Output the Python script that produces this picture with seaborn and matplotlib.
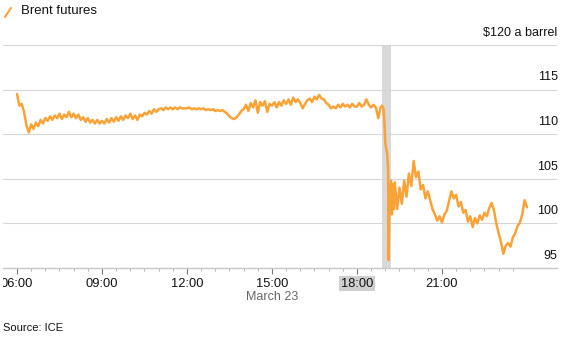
import numpy as np
import pandas as pd
import matplotlib
matplotlib.use("Agg")
import matplotlib.pyplot as plt
import matplotlib.transforms as mtransforms
from matplotlib.lines import Line2D
import seaborn as sns

# ---------------- data (Brent futures, $ a barrel, March 23) ----------------
# 5-minute prices 06:00 .. 11:55
price_morning = [
    114.5, 113.2, 113.4, 112.5, 111.0, 110.2, 111.1, 110.6, 111.3, 110.9, 111.6, 111.2,
    111.8, 111.5, 112.0, 111.6, 112.1, 111.8, 112.3, 111.7, 112.2, 111.9, 112.5, 111.9,
    112.3, 111.8, 112.2, 111.6, 111.9, 111.4, 111.8, 111.3, 111.6, 111.2, 111.6, 111.2,
    111.5, 111.2, 111.7, 111.3, 111.8, 111.4, 111.9, 111.5, 112.0, 111.6, 112.1, 111.8,
    112.3, 111.7, 112.1, 111.6, 112.2, 112.0, 112.4, 112.2, 112.6, 112.3, 112.8, 112.5,
    112.8, 112.9, 112.7, 113.0, 112.8, 113.0, 112.8, 113.0, 112.8, 113.0, 112.9, 112.9,
]
# 5-minute prices 12:00 .. 18:45
price_afternoon = [
    112.9, 113.0, 112.8, 112.9, 112.8, 112.9, 112.8, 112.9, 112.7, 112.8, 112.7, 112.8,
    112.6, 112.7, 112.6, 112.7, 112.5, 112.3, 112.0, 111.8, 111.7, 111.9, 112.2, 112.6,
    112.8, 113.3, 112.6, 113.5, 113.0, 113.8, 112.4, 113.6, 113.2, 113.7, 112.5, 113.4,
    113.2, 113.6, 113.0, 113.6, 113.2, 113.8, 113.4, 113.9, 113.3, 114.1, 113.6, 113.9,
    113.5, 112.9, 113.4, 113.8, 114.0, 113.6, 114.2, 113.9, 114.4, 114.0, 113.9, 113.5,
    113.3, 112.9, 113.1, 112.9, 113.3, 113.0, 113.4, 113.1, 113.3, 113.0, 113.4, 113.1,
    113.1, 113.5, 113.1, 113.3, 113.9, 113.3, 113.0, 113.3, 113.0, 111.8,
]
# the plunge: minutes after 18:00 and prices
crash_minutes = [50, 53, 56, 58, 60, 62, 64, 66, 67, 68, 70, 72, 74, 76, 78]
crash_prices = [113.0, 113.2, 112.9, 111.5, 109.0, 108.4, 107.8, 106.0, 95.9,
                100.3, 102.5, 104.8, 101.0, 104.4, 101.6]
# 5-minute prices 19:20 .. 24:00
price_evening = [
    104.6, 101.6, 104.0, 102.2, 104.8, 103.0, 105.6, 104.2,
    107.0, 105.2, 105.8, 103.8, 104.3, 102.8, 103.6, 102.6, 101.6, 101.0, 100.3, 100.8,
    100.1, 101.0, 101.4, 102.5, 103.6, 102.8, 103.2, 101.9, 102.4, 101.2, 101.5, 100.2,
    100.8, 99.6, 100.6, 100.0, 100.9, 100.4, 101.2, 100.8, 101.7, 102.3, 101.5, 100.0,
    98.9, 97.9, 96.6, 97.5, 97.8, 97.4, 98.4, 98.9, 99.7, 100.1, 101.0, 102.6,
    101.8,
]
halt_start, halt_end = 18 + 53 / 60, 19 + 12 / 60   # shaded window (hours)
y_levels = [95, 100, 105, 110, 115, 120]
y_labels = ["95", "100", "105", "110", "115", "$120 a barrel"]
x_major = [6, 9, 12, 15, 18, 21]
x_major_labels = ["06:00", "09:00", "12:00", "15:00", "18:00", "21:00"]

# ---------------- assemble ----------------
hours = np.concatenate([
    6 + np.arange(len(price_morning)) * 5 / 60,
    12 + np.arange(len(price_afternoon)) * 5 / 60,
    18 + np.array(crash_minutes) / 60,
    19 + 20 / 60 + np.arange(len(price_evening)) * 5 / 60,
])
prices = np.concatenate([price_morning, price_afternoon, crash_prices, price_evening])
df = pd.DataFrame({"hour": hours, "price": prices})

sns.set_theme(style="white")
plt.rcParams["font.family"] = ["Liberation Sans", "DejaVu Sans"]

W, H = 569, 339
fig = plt.figure(figsize=(W / 100, H / 100), dpi=100)
ax_l, ax_r, ax_t, ax_b = 3, 557, 45, 268
ax = fig.add_axes([ax_l / W, 1 - ax_b / H, (ax_r - ax_l) / W, (ax_b - ax_t) / H])

ORANGE = "#f9a236"
GRID = "#d6d6d6"

ax.axvspan(halt_start, halt_end, color="#d9d9d9", lw=0, zorder=0)
sns.lineplot(data=df, x="hour", y="price", ax=ax, color=ORANGE, linewidth=1.8,
             estimator=None, sort=False, zorder=3)

ax.set_xlim(5.506, 25.06)
ax.set_ylim(95, 120)
ax.set_xlabel("")
ax.set_ylabel("")

for s in ["left", "right", "top"]:
    ax.spines[s].set_visible(False)
ax.spines["bottom"].set_color("#c8c8c8")
ax.spines["bottom"].set_linewidth(1.0)

ax.set_yticks(y_levels)
ax.yaxis.grid(True, color=GRID, linewidth=0.8)
ax.xaxis.grid(False)
ax.tick_params(axis="y", left=False, labelleft=False)

for v, lab in zip(y_levels, y_labels):
    ax.annotate(lab, xy=(1, v), xycoords=("axes fraction", "data"),
                xytext=(0.5, 4.5), textcoords="offset points",
                ha="right", va="bottom", fontsize=9, color="#111111")

ax.set_xticks(x_major)
ax.set_xticklabels(x_major_labels, fontsize=9.3, color="#111111")
ax.set_xticks(np.arange(6, 24, 0.5), minor=True)
ax.tick_params(axis="x", which="major", bottom=True, direction="out", length=4,
               width=0.8, color="#777777", pad=3)
ax.tick_params(axis="x", which="minor", bottom=True, direction="out", length=2,
               width=0.6, color="#aaaaaa")

clip = mtransforms.TransformedBbox(mtransforms.Bbox([[3 / W, 0], [1, 1]]), fig.transFigure)
for lbl in ax.get_xticklabels():
    lbl.set_clip_box(clip)
    lbl.set_clip_on(True)
    if lbl.get_text() == "18:00":
        lbl.set_bbox(dict(boxstyle="square,pad=0.12", fc="#cfcfcf", ec="none"))

blend = mtransforms.blended_transform_factory(ax.transData, fig.transFigure)
ax.text(15, 1 - 296.5 / H, "March 23", transform=blend, ha="center", va="center",
        fontsize=9, color="#666666")

fig.text(3 / W, 1 - 328 / H, "Source: ICE", ha="left", va="center",
         fontsize=8, color="#111111")

fig.add_artist(Line2D([5 / W, 11 / W], [1 - 17 / H, 1 - 8 / H],
                      transform=fig.transFigure, color=ORANGE, lw=1.5))
fig.text(21 / W, 1 - 11.5 / H, "Brent futures", ha="left", va="center",
         fontsize=9.5, color="#111111")

fig.savefig("out.png", dpi=100)
